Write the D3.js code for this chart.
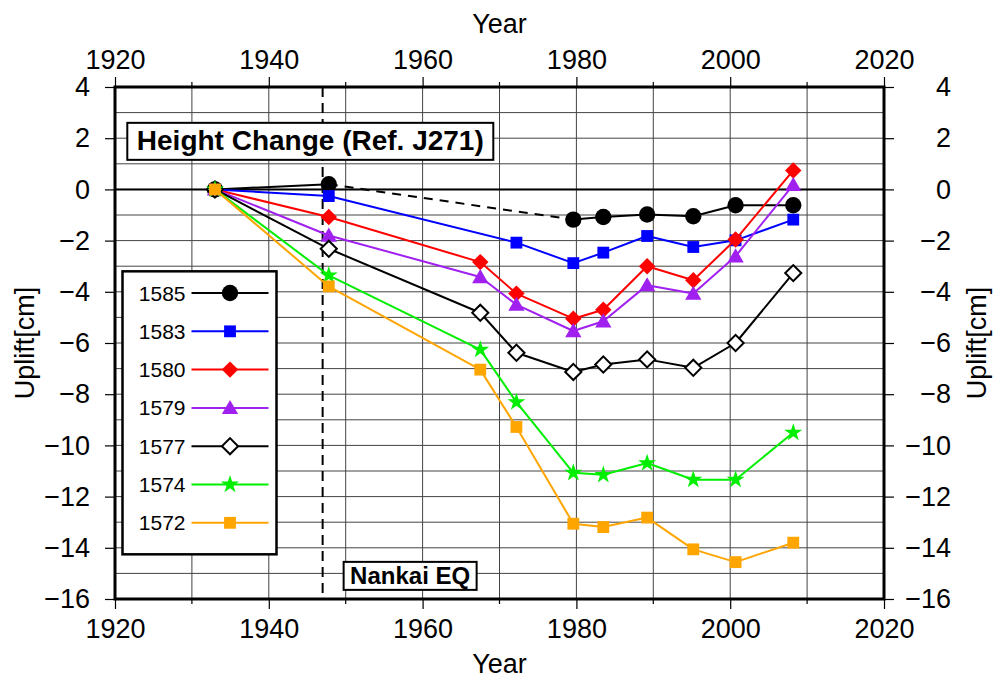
<!DOCTYPE html>
<html>
<head>
<meta charset="utf-8">
<script src="https://cdn.jsdelivr.net/npm/d3@7"></script>
<style>
  body { margin: 0; background: #fff; }
  svg { font-family: "Liberation Sans", Arial, sans-serif; }
</style>
</head>
<body>
<div id="chart"></div>
<script>
// survey epochs (decimal years) shared by all benchmarks
const years = [1933, 1947.8, 1967.5, 1972.2, 1979.6, 1983.5, 1989.2, 1995.2, 2000.7, 2008.2];

// height change in cm, null = not surveyed
const bm1585 = [0, 0.2, null, null, -1.18, -1.08, -0.98, -1.05, -0.62, -0.62];
const bm1583 = [0, -0.26, null, -2.08, -2.88, -2.47, -1.82, -2.25, -1.99, -1.18];
const bm1580 = [0, -1.08, -2.84, -4.07, -5.05, -4.7, -3.0, -3.55, -1.96, 0.74];
const bm1579 = [0, -1.8, -3.42, -4.5, -5.53, -5.15, -3.74, -4.07, -2.61, 0.18];
const bm1577 = [0, -2.32, -4.82, -6.38, -7.13, -6.84, -6.64, -6.97, -6.0, -3.27];
const bm1574 = [0, -3.36, -6.26, -8.31, -11.07, -11.15, -10.69, -11.34, -11.34, -9.5];
const bm1572 = [0, -3.79, -7.04, -9.28, -13.06, -13.19, -12.82, -14.06, -14.56, -13.8];

const names = ["1585", "1583", "1580", "1579", "1577", "1574", "1572"];
const xTicks = [1920, 1940, 1960, 1980, 2000, 2020];
const yTicks = [4, 2, 0, -2, -4, -6, -8, -10, -12, -14, -16];
const eqYear = 1947;

const seriesValues = [bm1585, bm1583, bm1580, bm1579, bm1577, bm1574, bm1572];

// styles per series
const styles = [
  { color: "#000", symbol: "circle", size: 210, fill: "#000" },
  { color: "#0000ff", symbol: "square", size: 140, fill: "#0000ff" },
  { color: "#ff0000", symbol: "diamond", size: 135, fill: "#ff0000" },
  { color: "#a020f0", symbol: "triangle", size: 115, fill: "#a020f0" },
  { color: "#000", symbol: "diamond", size: 130, fill: "#fff", open: true },
  { color: "#00ee00", symbol: "star", size: 100, fill: "#00ee00" },
  { color: "#ffa500", symbol: "square", size: 140, fill: "#ffa500" }
];
// only 1585 is bridged with a dashed line across missing surveys
const dashedGap = [true, false, false, false, false, false, false];

const width = 996;
const height = 677;
const margin = { top: 87, right: 112, bottom: 78, left: 115 };
const innerWidth = width - margin.left - margin.right;
const innerHeight = height - margin.top - margin.bottom;

const svg = d3.select("#chart")
  .append("svg")
  .attr("width", width)
  .attr("height", height);

const bounds = svg.append("g")
  .attr("transform", `translate(${margin.left},${margin.top})`);

const x = d3.scaleLinear().domain([1920, 2020]).range([0, innerWidth]);
const y = d3.scaleLinear().domain([-16, 4]).range([innerHeight, 0]);

// grid
bounds.append("g")
  .selectAll("line")
  .data(d3.range(1930, 2020, 10))
  .join("line")
  .attr("x1", d => x(d)).attr("x2", d => x(d))
  .attr("y1", 0).attr("y2", innerHeight)
  .attr("stroke", "#444").attr("stroke-width", 1);

bounds.append("g")
  .selectAll("line")
  .data(d3.range(-15, 4, 1))
  .join("line")
  .attr("x1", 0).attr("x2", innerWidth)
  .attr("y1", d => y(d)).attr("y2", d => y(d))
  .attr("stroke", "#444").attr("stroke-width", 1);

// zero line
bounds.append("line")
  .attr("x1", 0).attr("x2", innerWidth)
  .attr("y1", y(0)).attr("y2", y(0))
  .attr("stroke", "#000").attr("stroke-width", 2);

// earthquake line
bounds.append("line")
  .attr("x1", x(eqYear)).attr("x2", x(eqYear))
  .attr("y1", 0).attr("y2", innerHeight)
  .attr("stroke", "#000").attr("stroke-width", 2)
  .attr("stroke-dasharray", "10,6");

function symbolPath(st) {
  const map = {
    circle: d3.symbolCircle,
    square: d3.symbolSquare,
    diamond: d3.symbolSquare,
    triangle: d3.symbolTriangle,
    star: d3.symbolStar
  };
  return d3.symbol().type(map[st.symbol]).size(st.size)();
}

function drawMarker(g, st, cx, cy) {
  const p = g.append("path")
    .attr("d", symbolPath(st))
    .attr("transform", `translate(${cx},${cy})` + (st.symbol === "diamond" ? " rotate(45)" : "") +
      (st.symbol === "triangle" ? " translate(0,1.5)" : ""))
    .attr("fill", st.fill);
  if (st.open) p.attr("stroke", st.color).attr("stroke-width", 2);
}

// series
seriesValues.forEach((vals, i) => {
  const st = styles[i];
  const pts = years.map((yr, j) => ({ yr, v: vals[j], j })).filter(d => d.v !== null);
  const g = bounds.append("g");
  for (let k = 1; k < pts.length; k++) {
    const a = pts[k - 1], b = pts[k];
    const dashed = dashedGap[i] && b.j - a.j > 1;
    g.append("line")
      .attr("x1", x(a.yr)).attr("y1", y(a.v))
      .attr("x2", x(b.yr)).attr("y2", y(b.v))
      .attr("stroke", st.color)
      .attr("stroke-width", 2)
      .attr("stroke-dasharray", dashed ? "9,7" : null);
  }
  pts.forEach(d => drawMarker(g, st, x(d.yr), y(d.v)));
});

// title box
const title = bounds.append("g").attr("transform", `translate(${x(1921.6)},${y(2.6)})`);
title.append("rect")
  .attr("width", 366).attr("height", 37)
  .attr("fill", "#fff").attr("stroke", "#000").attr("stroke-width", 2);
title.append("text")
  .attr("x", 183).attr("y", 27)
  .attr("text-anchor", "middle")
  .attr("font-size", 28).attr("font-weight", "bold")
  .text("Height Change (Ref. J271)");

// Nankai EQ label
const eq = bounds.append("g").attr("transform", `translate(${x(1947)+21},${y(-14.55)})`);
eq.append("rect")
  .attr("width", 133).attr("height", 28)
  .attr("fill", "#fff").attr("stroke", "#000").attr("stroke-width", 2);
eq.append("text")
  .attr("x", 66.5).attr("y", 22.5)
  .attr("text-anchor", "middle")
  .attr("font-size", 24).attr("font-weight", "bold")
  .text("Nankai EQ");

// legend
const legend = bounds.append("g").attr("transform", `translate(7.5,${y(-3.2)})`);
legend.append("rect")
  .attr("width", 154).attr("height", 283)
  .attr("fill", "#fff").attr("stroke", "#000").attr("stroke-width", 2.5);
names.forEach((name, i) => {
  const st = styles[i];
  const row = legend.append("g").attr("transform", `translate(0,${21.7 + i * 38.3})`);
  row.append("text")
    .attr("x", 63).attr("y", 0).attr("dy", "0.36em")
    .attr("text-anchor", "end")
    .attr("font-size", 21)
    .text(name);
  row.append("line")
    .attr("x1", 69).attr("x2", 146)
    .attr("stroke", st.color).attr("stroke-width", 2);
  drawMarker(row, st, 107.5, 0);
});

// frame
bounds.append("rect")
  .attr("width", innerWidth).attr("height", innerHeight)
  .attr("fill", "none").attr("stroke", "#000").attr("stroke-width", 3);

// axes
const fmt = d => d3.format("d")(d).replace("-", "\u2212");

function styleAxis(g) {
  g.select(".domain").remove();
  g.selectAll(".tick line").attr("stroke", "#000").attr("stroke-width", 1.2);
  g.selectAll(".tick text").attr("font-size", 27).attr("fill", "#000")
    .attr("font-family", "Liberation Sans, Arial, sans-serif");
}

bounds.append("g")
  .attr("transform", `translate(0,${innerHeight})`)
  .call(d3.axisBottom(x).tickValues(xTicks).tickFormat(fmt).tickSize(10).tickPadding(10))
  .call(styleAxis);

bounds.append("g")
  .call(d3.axisTop(x).tickValues(xTicks).tickFormat(fmt).tickSize(10).tickPadding(8.5))
  .call(styleAxis);

// minor x ticks
[0, innerHeight].forEach((yy, k) => {
  bounds.append("g")
    .selectAll("line")
    .data(d3.range(1930, 2020, 20))
    .join("line")
    .attr("x1", d => x(d)).attr("x2", d => x(d))
    .attr("y1", yy).attr("y2", k ? yy + 5 : yy - 5)
    .attr("stroke", "#000").attr("stroke-width", 1.2);
});

bounds.append("g")
  .call(d3.axisLeft(y).tickValues(yTicks).tickFormat(fmt).tickSize(10).tickPadding(15))
  .call(styleAxis);

bounds.append("g")
  .attr("transform", `translate(${innerWidth},0)`)
  .call(d3.axisRight(y).tickValues(yTicks).tickFormat(fmt).tickSize(10).tickPadding(10))
  .call(styleAxis)
  .call(g => g.selectAll(".tick text").attr("text-anchor", "end").attr("x", 67));

// axis titles
svg.append("text")
  .attr("x", margin.left + innerWidth / 2).attr("y", 33)
  .attr("text-anchor", "middle").attr("font-size", 27)
  .text("Year");
svg.append("text")
  .attr("x", margin.left + innerWidth / 2).attr("y", 673)
  .attr("text-anchor", "middle").attr("font-size", 27)
  .text("Year");
svg.append("text")
  .attr("transform", `translate(34,${margin.top + innerHeight / 2}) rotate(-90)`)
  .attr("text-anchor", "middle").attr("font-size", 27)
  .text("Uplift[cm]");
svg.append("text")
  .attr("transform", `translate(986,${margin.top + innerHeight / 2}) rotate(-90)`)
  .attr("text-anchor", "middle").attr("font-size", 27)
  .text("Uplift[cm]");
</script>
</body>
</html>
